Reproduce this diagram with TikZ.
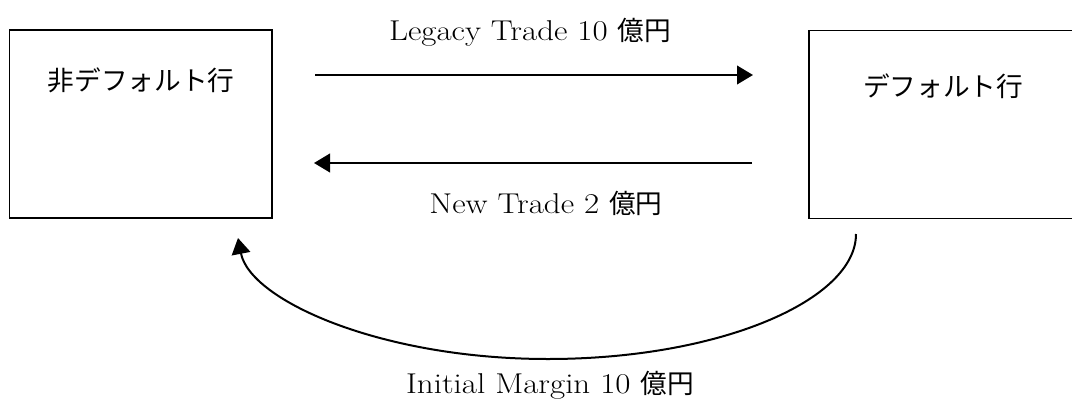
\documentclass[tikz,border=0pt]{standalone}
\usepackage{fontspec}
\setmainfont{Latin Modern Roman}[FakeStretch=1.15]
\newfontfamily\jafont{Noto Sans CJK JP}
\usetikzlibrary{arrows.meta,positioning}
\begin{document}
\begin{tikzpicture}[x=0.75pt,y=-0.75pt,
  bank/.style={draw,line width=1pt,minimum width=197pt,minimum height=141pt,inner sep=0pt},
  bankname/.style={font=\jafont\fontsize{20}{22}\selectfont},
  flow/.style={line width=1.5pt,-{Triangle[length=12pt,width=14pt]}},
  amount/.style={font=\fontsize{21.5}{24}\selectfont,anchor=base,inner sep=0pt}]
\useasboundingbox (0,0) rectangle (1072,404);
\node[bank] (nondef) at (140.5,124) {};
\node[bank,minimum width=201pt] (dflt) at (943,124.5) {};
\node[bankname] (nondefname) at (141,80) {非デフォルト行};
\node[bankname] (dfltname) at (943,86) {デフォルト行};
\coordinate (legacyA) at (315,75);
\coordinate (legacyB) at (753,75);
\coordinate (newA) at (752,163);
\coordinate (newB) at (314,163);
\coordinate (imA) at (856,234);
\coordinate (imB) at (238,238);
\draw[flow] (legacyA) -- (legacyB);
\draw[flow] (newA) -- (newB);
\draw[flow] (imA) .. controls (856,300) and (720,359) .. (548,359)
  .. controls (380,359) and (250,300) .. (imB);
\node[amount] (legacytxt) at (530,40) {Legacy Trade 10 {\jafont\fontsize{20}{22}\selectfont 億円}};
\node[amount] (newtxt) at (546,213) {New Trade 2 {\jafont\fontsize{20}{22}\selectfont 億円}};
\node[amount] (imtxt) at (550,393) {Initial Margin 10 {\jafont\fontsize{20}{22}\selectfont 億円}};
\end{tikzpicture}
\end{document}
